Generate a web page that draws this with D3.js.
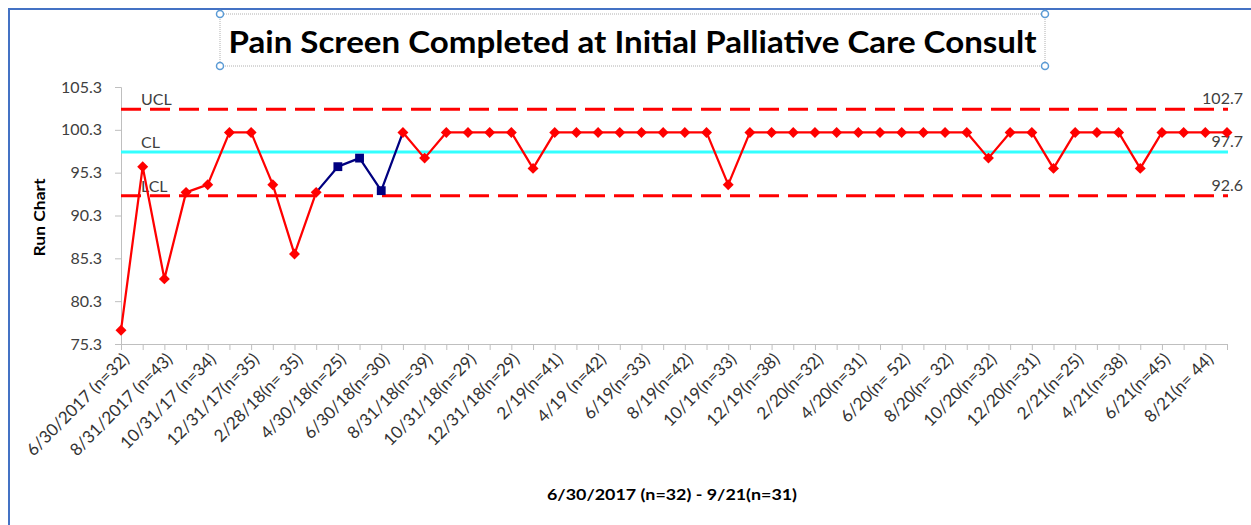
<!DOCTYPE html>
<html>
<head>
<meta charset="utf-8">
<script src="https://cdn.jsdelivr.net/npm/d3@7"></script>
<style>
  body { margin: 0; background: #fff; }
  svg { display: block; font-family: Lato, "Liberation Sans", sans-serif; }
</style>
</head>
<body>
<svg id="chart" width="1251" height="525"></svg>
<script>
// monthly values, 6/2017 .. 9/2021
const values = [
  76.9, 96.0, 82.9, 93.0, 93.9, 100, 100, 93.9, 85.8, 93.0,
  96.0, 97.0, 93.2, 100, 97.0, 100, 100, 100, 100, 95.8,
  100, 100, 100, 100, 100, 100, 100, 100, 93.9, 100,
  100, 100, 100, 100, 100, 100, 100, 100, 100, 100,
  97.0, 100, 100, 95.8, 100, 100, 100, 95.8, 100, 100,
  100, 100
];
// points flagged as a run (drawn in navy)
const runIdx = [10, 11, 12];

// every other month gets a label
const tickLabels = [
  "6/30/2017 (n=32)", "8/31/2017 (n=43)", "10/31/17 (n=34)", "12/31/17(n=35)",
  "2/28/18(n= 35)", "4/30/18(n=25)", "6/30/18(n=30)", "8/31/18(n=39)",
  "10/31/18(n=29)", "12/31/18(n=29)", "2/19(n=41)", "4/19 (n=42)",
  "6/19(n=33)", "8/19(n=42)", "10/19(n=33)", "12/19(n=38)",
  "2/20(n=32)", "4/20(n=31)", "6/20(n= 52)", "8/20(n= 32)",
  "10/20(n=32)", "12/20(n=31)", "2/21(n=25)", "4/21(n=38)",
  "6/21(n=45)", "8/21(n= 44)"
];
const yTicks = [75.3, 80.3, 85.3, 90.3, 95.3, 100.3, 105.3];
const limits = [
  {name: "UCL", value: 102.7, color: "#ff0000", dash: "20,9"},
  {name: "CL", value: 97.7, color: "#33ffff", dash: null},
  {name: "LCL", value: 92.6, color: "#ff0000", dash: "20,9"}
];

const svg = d3.select("#chart");
const margin = {top: 87, right: 24, bottom: 181, left: 121};
const width = 1251, height = 525;

const x = d3.scalePoint()
    .domain(d3.range(values.length))
    .range([margin.left, width - margin.right]);
const y = d3.scaleLinear()
    .domain([75.3, 105.3])
    .range([height - margin.bottom, margin.top]);

// selection frame of the chart object
svg.append("path")
    .attr("d", `M9,${height}V9H${width}`)
    .attr("fill", "none")
    .attr("stroke", "#4472c4")
    .attr("stroke-width", 2);

// title box
const tb = {x0: 220, x1: 1045, y0: 14, y1: 66};
svg.append("rect")
    .attr("x", tb.x0).attr("y", tb.y0)
    .attr("width", tb.x1 - tb.x0).attr("height", tb.y1 - tb.y0)
    .attr("fill", "none")
    .attr("stroke", "#b0b0b0")
    .attr("stroke-dasharray", "1,1");
svg.append("text")
    .attr("x", (tb.x0 + tb.x1) / 2)
    .attr("y", 53)
    .attr("text-anchor", "middle")
    .attr("font-size", 30)
    .attr("font-weight", "bold")
    .attr("fill", "#000")
    .attr("textLength", 808)
    .attr("lengthAdjust", "spacingAndGlyphs")
    .text("Pain Screen Completed at Initial Palliative Care Consult");
for (const [cx, cy] of [[tb.x0, tb.y0], [tb.x1, tb.y0], [tb.x0, tb.y1], [tb.x1, tb.y1]]) {
    svg.append("circle")
        .attr("cx", cx).attr("cy", cy).attr("r", 3.5)
        .attr("fill", "#fff")
        .attr("stroke", "#5b9bd5")
        .attr("stroke-width", 1.5);
}

// y axis
const yAxis = g => g
    .attr("transform", `translate(${margin.left},0)`)
    .call(d3.axisLeft(y).tickValues(yTicks).tickFormat(d3.format(".1f")).tickSize(6).tickPadding(13))
    .call(g => g.selectAll("line, path").attr("stroke", "#bfbfbf"))
    .call(g => g.selectAll("text").attr("font-size", 16).attr("fill", "#404040"));
svg.append("g").call(yAxis).attr("font-family", null);

// x axis
const xAxis = g => g
    .attr("transform", `translate(0,${height - margin.bottom})`)
    .call(d3.axisBottom(x).tickFormat("").tickSize(6).tickSizeOuter(0))
    .call(g => g.selectAll("line, path").attr("stroke", "#bfbfbf"));
svg.append("g").call(xAxis);

svg.append("g")
  .selectAll("text")
  .data(tickLabels)
  .join("text")
    .attr("transform", (d, i) => `translate(${x(i * 2) + 5},${height - margin.bottom + 12}) rotate(-45)`)
    .attr("text-anchor", "end")
    .attr("dy", "0.35em")
    .attr("font-size", 17)
    .attr("fill", "#333")
    .text(d => d);

// axis titles
svg.append("text")
    .attr("transform", `translate(45,${(margin.top + height - margin.bottom) / 2 + 2}) rotate(-90)`)
    .attr("text-anchor", "middle")
    .attr("font-size", 15)
    .attr("font-weight", "bold")
    .attr("fill", "#000")
    .attr("textLength", 78)
    .attr("lengthAdjust", "spacingAndGlyphs")
    .text("Run Chart");
svg.append("text")
    .attr("x", 672)
    .attr("y", 500)
    .attr("text-anchor", "middle")
    .attr("font-size", 16)
    .attr("font-weight", "bold")
    .attr("fill", "#000")
    .attr("textLength", 250)
    .attr("lengthAdjust", "spacingAndGlyphs")
    .text("6/30/2017 (n=32) - 9/21(n=31)");

// control limits
const xEnd = width - margin.right + 1;
svg.append("g")
  .selectAll("line")
  .data(limits)
  .join("line")
    .attr("x1", margin.left).attr("x2", xEnd)
    .attr("y1", d => y(d.value)).attr("y2", d => y(d.value))
    .attr("stroke", d => d.color)
    .attr("stroke-width", 3)
    .attr("stroke-dasharray", d => d.dash);

svg.append("g")
  .selectAll("text")
  .data(limits)
  .join("text")
    .attr("x", margin.left + 20)
    .attr("y", d => y(d.value) - 4)
    .attr("font-size", 16)
    .attr("fill", "#404040")
    .text(d => d.name);

svg.append("g")
  .selectAll("text")
  .data(limits)
  .join("text")
    .attr("x", 1243)
    .attr("y", d => y(d.value) - 5)
    .attr("text-anchor", "end")
    .attr("font-size", 16)
    .attr("fill", "#404040")
    .text(d => d.value.toFixed(1));

// run chart line
const pts = values.map((v, i) => ({i, v}));
const line = d3.line()
    .x(d => x(d.i))
    .y(d => y(d.v));
const runStart = runIdx[0] - 1, runEnd = runIdx[runIdx.length - 1] + 1;

svg.append("path")
    .datum(pts.slice(0, runStart + 1))
    .attr("fill", "none").attr("stroke", "#ff0000").attr("stroke-width", 2.25)
    .attr("stroke-linejoin", "round")
    .attr("d", line);
svg.append("path")
    .datum(pts.slice(runEnd))
    .attr("fill", "none").attr("stroke", "#ff0000").attr("stroke-width", 2.25)
    .attr("stroke-linejoin", "round")
    .attr("d", line);
svg.append("path")
    .datum(pts.slice(runStart, runEnd + 1))
    .attr("fill", "none").attr("stroke", "#000080").attr("stroke-width", 2.25)
    .attr("stroke-linejoin", "round")
    .attr("d", line);

// markers
const diamond = d3.symbol().type(d3.symbolSquare).size(60);
const square = d3.symbol().type(d3.symbolSquare).size(78);
svg.append("g")
  .selectAll("path")
  .data(pts)
  .join("path")
    .attr("transform", d => runIdx.includes(d.i)
        ? `translate(${x(d.i)},${y(d.v)})`
        : `translate(${x(d.i)},${y(d.v)}) rotate(45)`)
    .attr("d", d => runIdx.includes(d.i) ? square() : diamond())
    .attr("fill", d => runIdx.includes(d.i) ? "#000080" : "#ff0000");
</script>
</body>
</html>
